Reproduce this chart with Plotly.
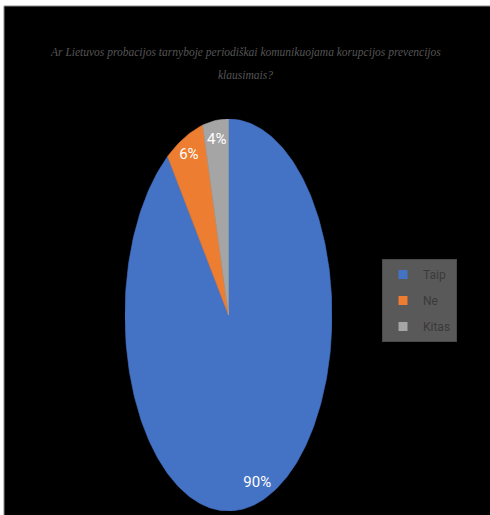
import numpy as np
import plotly.graph_objects as go

categories = ["Taip", "Ne", "Kitas"]
values = [90, 6, 4]
colors = ["#4472C4", "#ED7D31", "#A5A5A5"]
title_lines = ["Ar Lietuvos probacijos tarnyboje periodiškai komunikuojama korupcijos prevencijos",
               "klausimais?"]

W, H = 490, 515
fig = go.Figure()

total = float(sum(values))
cum = np.concatenate([[0.0], np.cumsum(values)]) / total
label_x, label_y, label_t = [], [], []
for i, (cat, v) in enumerate(zip(categories, values)):
    a0, a1 = cum[i] * 2 * np.pi, cum[i + 1] * 2 * np.pi
    t = np.linspace(a0, a1, max(int(360 * (a1 - a0) / (2 * np.pi)), 8))
    xs = np.concatenate([[0], np.sin(t), [0]])
    ys = np.concatenate([[0], np.cos(t), [0]])
    fig.add_trace(go.Scatter(x=xs, y=ys, mode="lines", fill="toself",
                             fillcolor=colors[i], line=dict(width=0.6, color=colors[i]),
                             name=cat, legendgroup=cat, showlegend=False, hoverinfo="name"))
    # legend entry with square swatch
    fig.add_trace(go.Scatter(x=[None], y=[None], mode="markers", name=cat, legendgroup=cat,
                             marker=dict(symbol="square", size=9, color=colors[i]),
                             showlegend=True))
    am = (a0 + a1) / 2
    label_x.append(0.9 * np.sin(am))
    label_y.append(0.9 * np.cos(am))
    label_t.append(f"{round(v / total * 100)}%")

fig.add_trace(go.Scatter(x=label_x, y=label_y, mode="text", text=label_t,
                         textfont=dict(color="white", size=15, family="Roboto, sans-serif"),
                         showlegend=False, hoverinfo="skip"))

fig.add_shape(type="rect", xref="paper", yref="paper", x0=4 / W, x1=1.02, y0=-0.02, y1=1 - 6 / H,
              fillcolor="black", line=dict(color="#8a8a8a", width=1), layer="below")

for k, line in enumerate(title_lines):
    fig.add_annotation(text=f"<i>{line}</i>", xref="paper", yref="paper",
                       x=0.5, y=1 - (52 + 23 * k) / H, xanchor="center", yanchor="middle",
                       showarrow=False, font=dict(family="Liberation Serif, serif", size=11.5, color="#555555"))

fig.update_layout(
    width=W, height=H, margin=dict(l=0, r=0, t=0, b=0),
    paper_bgcolor="white", plot_bgcolor="rgba(0,0,0,0)",
    xaxis=dict(range=[-1, 1], domain=[125 / W, 332 / W], visible=False, fixedrange=True),
    yaxis=dict(range=[-1, 1], domain=[(H - 511) / H, (H - 119) / H], visible=False, fixedrange=True),
    legend=dict(x=382 / W, y=1 - 259 / H, xanchor="left", yanchor="top",
                bgcolor="#595959", bordercolor="#4a4a4a", borderwidth=1,
                font=dict(family="Roboto, sans-serif", size=12, color="#3a3a3a"),
                tracegroupgap=7, itemwidth=30),
    showlegend=True,
)

fig.write_html("out.html", config={"displayModeBar": False},
               post_script="document.body.style.margin='0';document.body.style.overflow='hidden';")
